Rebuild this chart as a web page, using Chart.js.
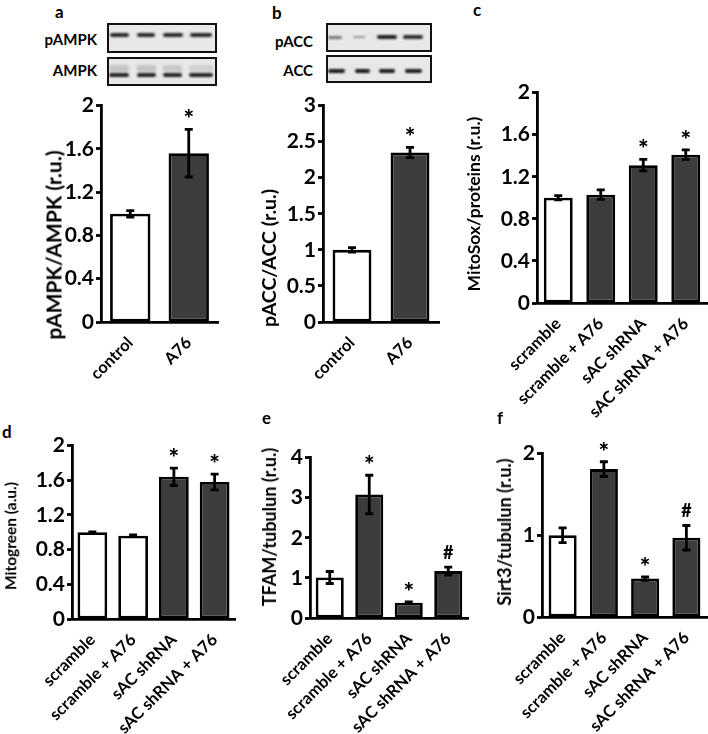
<!DOCTYPE html>
<html>
<head>
<meta charset="utf-8">
<title>AMPK / sAC panels</title>
<script src="https://cdn.jsdelivr.net/npm/chart.js@4.4.1/dist/chart.umd.min.js"></script>
<style>
  body { margin: 0; width: 708px; height: 734px; overflow: hidden; background: #fff; position: relative;
         font-family: Lato, "Open Sans", sans-serif; font-weight: bold; color: #000; }
  canvas, .txt, .blot { position: absolute; }
  .txt { white-space: nowrap; line-height: 1; }
  .ytitle { transform: translate(-50%, -50%) rotate(-90deg); }
  .blot { border: 2.5px solid #111; background: #e8e8e8; box-sizing: border-box; overflow: hidden; }
  .band { position: absolute; border-radius: 2px; filter: blur(0.9px); }
</style>
</head>
<body>
<script>
// a, b: A76 treatment
var treat = ['control', 'A76'];
var pAmpkRatio = [1.0, 1.56];
var pAmpkErr = [0.03, 0.22];
var pAccRatio = [1.0, 2.35];
var pAccErr = [0.03, 0.07];
var treatMarks = ['', '*'];

// c - f: sAC knockdown
var groups = ['scramble', 'scramble + A76', 'sAC shRNA', 'sAC shRNA + A76'];
var mitoSox = [1.0, 1.03, 1.31, 1.41];
var mitoSoxErr = [0.02, 0.045, 0.055, 0.045];
var mitoSoxMarks = ['', '', '*', '*'];
var mitogreen = [1.0, 0.96, 1.64, 1.58];
var mitogreenErr = [0.005, 0.01, 0.1, 0.09];
var mitogreenMarks = ['', '', '*', '*'];
var tfam = [1.01, 3.08, 0.38, 1.17];
var tfamErr = [0.15, 0.48, 0.02, 0.1];
var tfamMarks = ['', '*', '*', '#'];
var sirt3 = [1.0, 1.81, 0.47, 0.97];
var sirt3Err = [0.09, 0.09, 0.02, 0.15];
var sirt3Marks = ['', '*', '*', '#'];

var W = '#ffffff', D = '#3c3c3c';

// error bars + significance marks, from the y scale
var errorBars = {
    id: 'errorBars',
    afterDatasetsDraw: function(chart) {
        var ds = chart.data.datasets[0];
        var meta = chart.getDatasetMeta(0);
        var y = chart.scales.y;
        var ctx = chart.ctx;
        ctx.save();
        ctx.strokeStyle = '#000';
        ctx.fillStyle = '#000';
        ctx.lineWidth = 2.8;
        ctx.textAlign = 'center';
        ctx.textBaseline = 'alphabetic';
        meta.data.forEach(function(bar, i) {
            var v = ds.data[i], e = ds.errors[i];
            var yt = y.getPixelForValue(v + e), yb = y.getPixelForValue(v - e);
            ctx.beginPath();
            ctx.moveTo(bar.x, yt); ctx.lineTo(bar.x, yb);
            ctx.moveTo(bar.x - 4, yt); ctx.lineTo(bar.x + 4, yt);
            ctx.moveTo(bar.x - 4, yb); ctx.lineTo(bar.x + 4, yb);
            ctx.stroke();
            var m = ds.marks[i];
            if (m == '*') {
                ctx.font = '900 25px Lato';
                ctx.fillText(m, bar.x, yt - 1);
            } else if (m == '#') {
                ctx.font = '900 18px Lato';
                ctx.fillText(m, bar.x, yt - 8);
            }
        });
        ctx.restore();
    }
};

function txt(s, left, top, size, cls) {
    var d = document.createElement('div');
    d.className = 'txt' + (cls ? ' ' + cls : '');
    d.textContent = s;
    d.style.left = left + 'px';
    d.style.top = top + 'px';
    d.style.fontSize = size + 'px';
    document.body.appendChild(d);
    return d;
}

function yTitle(s, cx, cy, size) {
    txt(s, cx, cy, size, 'ytitle');
}

function blotLabel(s, right, cy) {
    var d = txt(s, 0, cy - 8, 15);
    d.style.left = '';
    d.style.right = (708 - right) + 'px';
}

// bands: [x, width, centre y, thickness, colour]
function blot(x, y, w, h, bands) {
    var b = document.createElement('div');
    b.className = 'blot';
    b.style.left = x + 'px'; b.style.top = y + 'px';
    b.style.width = w + 'px'; b.style.height = h + 'px';
    bands.forEach(function(bd) {
        var s = document.createElement('div');
        s.className = 'band';
        s.style.left = (bd[0] - x - 2) + 'px';
        s.style.width = bd[1] + 'px';
        s.style.top = (bd[2] - y - 2 - bd[3] / 2) + 'px';
        s.style.height = bd[3] + 'px';
        s.style.background = bd[4];
        b.appendChild(s);
    });
    document.body.appendChild(b);
}

function panel(p) {
    var c = document.createElement('canvas');
    c.width = p.w; c.height = p.h;
    c.style.left = p.left + 'px'; c.style.top = p.top + 'px';
    document.body.appendChild(c);
    return new Chart(c, {
        type: 'bar',
        data: {
            labels: p.labels,
            datasets: [{
                data: p.values,
                errors: p.errors,
                marks: p.marks,
                backgroundColor: p.fills,
                borderColor: '#000',
                borderWidth: 2.8,
                borderSkipped: false,
                barPercentage: p.barPct,
                categoryPercentage: 1
            }]
        },
        options: {
            responsive: false,
            animation: false,
            events: [],
            layout: { padding: { top: 12, right: 10, left: 0, bottom: 0 } },
            plugins: { legend: { display: false }, tooltip: { enabled: false } },
            scales: {
                x: {
                    grid: { display: false },
                    border: { color: '#000', width: 2.8 },
                    ticks: {
                        color: '#000',
                        font: { family: 'Lato', weight: 'bold', size: 16.5 },
                        minRotation: 45, maxRotation: 45, autoSkip: false, padding: 3
                    },
                    afterFit: function(s) { s.height = p.xh; }
                },
                y: {
                    min: 0, max: p.max,
                    ticks: {
                        stepSize: p.step, color: '#000', padding: 2,
                        font: { family: 'Lato', weight: 'bold', size: 21 },
                        callback: function(v) { return String(Math.round(v * 10) / 10); }
                    },
                    grid: { drawOnChartArea: false, tickLength: 5, tickWidth: 2.8, color: '#000' },
                    border: { color: '#000', width: 2.8 },
                    afterFit: function(s) { s.width = p.yw; }
                }
            }
        },
        plugins: [errorBars]
    });
}

// panel a
txt('a', 55, 3, 17);
blot(107, 23, 110, 30, [[110, 19, 35, 4, '#2a2a2a'], [137, 18, 35, 4, '#2a2a2a'], [163, 20, 35, 4, '#2a2a2a'], [190, 22, 35, 4, '#2a2a2a']]);
blot(107, 57, 110, 29, [[109, 20, 68, 7, '#c4c4c4'], [137, 19, 68, 7, '#c4c4c4'], [163, 19, 68, 7, '#cacaca'], [189, 24, 68, 7, '#d0d0d0'],
    [109, 20, 75, 4, '#222'], [137, 19, 75, 4, '#222'], [163, 19, 75, 4, '#222'], [189, 24, 75, 4, '#222']]);
blotLabel('pAMPK', 97, 40);
blotLabel('AMPK', 97, 71);
panel({ left: 31, top: 91, w: 197, h: 309, yw: 70, xh: 78, labels: treat, values: pAmpkRatio, errors: pAmpkErr,
    marks: treatMarks, fills: [W, D], max: 2, step: 0.4, barPct: 0.69 });
yTitle('pAMPK/AMPK (r.u.)', 53, 245, 21);

// panel b
txt('b', 272, 4, 17);
blot(326, 23, 106, 29, [[328, 14, 37, 3, '#777'], [353, 12, 37, 2.5, '#999'], [377, 20, 37, 4, '#1e1e1e'], [403, 20, 37, 3.5, '#2e2e2e']]);
blot(326, 55, 106, 28, [[328, 17, 71, 4, '#1a1a1a'], [355, 15, 71, 4, '#1a1a1a'], [379, 16, 71, 4, '#1a1a1a'], [405, 17, 71, 4, '#1a1a1a']]);
blotLabel('pACC', 313, 42);
blotLabel('ACC', 313, 71);
panel({ left: 253, top: 91, w: 196, h: 309, yw: 70, xh: 78, labels: treat, values: pAccRatio, errors: pAccErr,
    marks: treatMarks, fills: [W, D], max: 3, step: 0.5, barPct: 0.67 });
yTitle('pACC/ACC (r.u.)', 269, 258, 19.5);

// panel c
txt('c', 473, 1, 17);
panel({ left: 467, top: 78, w: 250, h: 352, yw: 70, xh: 127, labels: groups, values: mitoSox, errors: mitoSoxErr,
    marks: mitoSoxMarks, fills: [W, D, D, D], max: 2, step: 0.4, barPct: 0.68 });
yTitle('MitoSox/proteins (r.u.)', 474, 204, 17.5);

// panel d
txt('d', 2, 423, 17);
panel({ left: 0, top: 431, w: 245, h: 329, yw: 72, xh: 141, labels: groups, values: mitogreen, errors: mitogreenErr,
    marks: mitogreenMarks, fills: [W, W, D, D], max: 2, step: 0.4, barPct: 0.73 });
yTitle('Mitogreen (a.u.)', 11, 536, 15.5);

// panel e
txt('e', 262, 409, 17);
panel({ left: 240, top: 443, w: 238, h: 317, yw: 70, xh: 142, labels: groups, values: tfam, errors: tfamErr,
    marks: tfamMarks, fills: [W, D, D, D], max: 4, step: 1, barPct: 0.71 });
yTitle('TFAM/tubulun (r.u.)', 269, 527, 18);

// panel f
txt('f', 497, 409, 17);
panel({ left: 472, top: 439, w: 245, h: 321, yw: 70, xh: 143, labels: groups, values: sirt3, errors: sirt3Err,
    marks: sirt3Marks, fills: [W, D, D, D], max: 2, step: 1, barPct: 0.68 });
yTitle('Sirt3/tubulun (r.u.)', 504, 532, 18);
</script>
</body>
</html>
